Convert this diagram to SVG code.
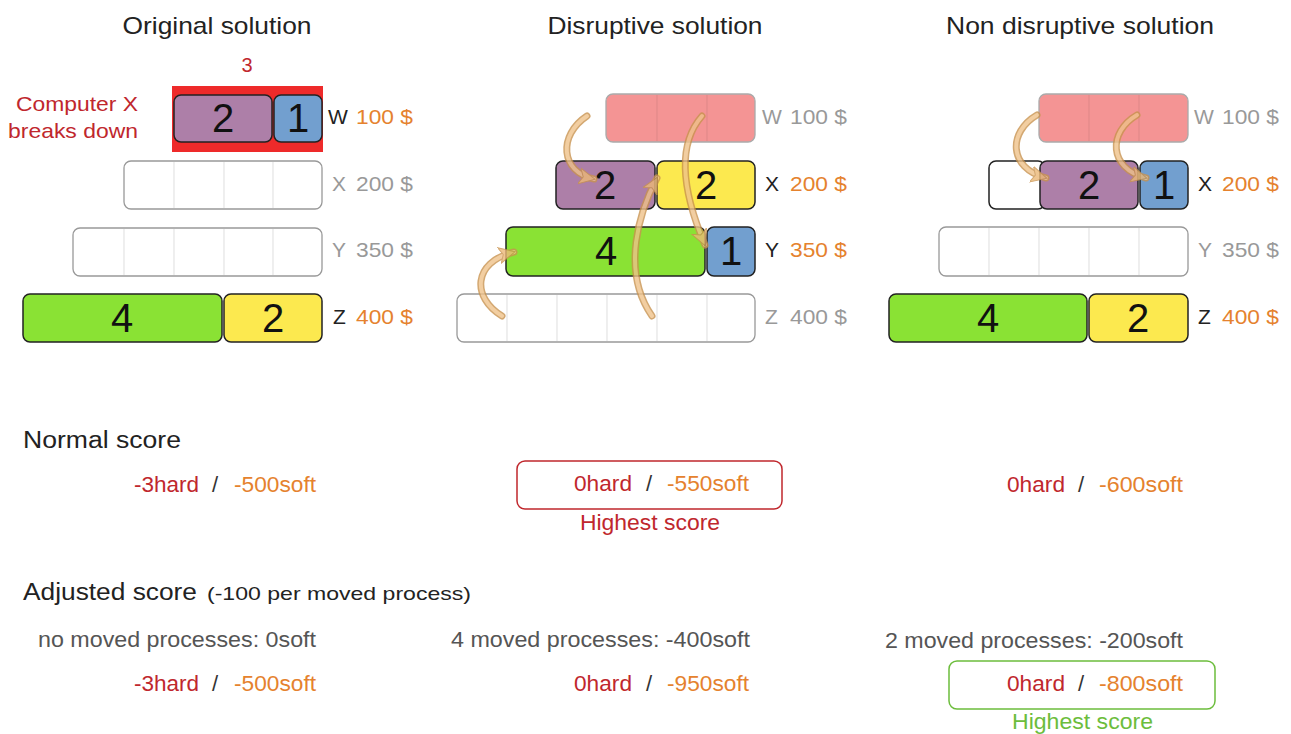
<svg xmlns="http://www.w3.org/2000/svg" width="1291" height="734" viewBox="0 0 1291 734">
<style>
text{font-family:"Liberation Sans",Arial,sans-serif}
.title{font-size:24px;fill:#222;text-anchor:middle}
.num{font-size:40px;fill:#111;text-anchor:middle}
.lbl{font-size:21px}
.blk{fill:#222}
.gry{fill:#999}
.org{fill:#e5822e}
.red{fill:#c0272d}
.grn{fill:#6cbd3c}
.dark{fill:#555}
.sl{fill:#333}
.sc{font-size:22px}
.box{stroke:#222;stroke-width:1.5}
.pur{fill:#ad7fa8}
.blu{fill:#729fcf}
.gre{fill:#8ae234}
.yel{fill:#fce94f}
.emp{fill:#fff;stroke:#999;stroke-width:1.3}
.pnk{fill:#f49494;stroke:#aaa;stroke-width:1.3}
.cell{stroke:#e6e6e6;stroke-width:1.3}
.pcell{stroke:#e48a8a;stroke-width:1.3}
.ao{fill:none;stroke:#c9934f;stroke-width:7;stroke-linecap:round}
.ai{fill:none;stroke:#efc28a;stroke-width:4;stroke-linecap:round}
</style>
<defs>
<marker id="ah" markerUnits="userSpaceOnUse" viewBox="0 0 18 18" markerWidth="18" markerHeight="18" refX="15" refY="9" orient="auto">
<path d="M0,1 L16,9 L0,17 L4,9 z" fill="#ecb977" stroke="#c9934f" stroke-width="1"/>
</marker>
</defs>
<rect width="1291" height="734" fill="#fff"/>

<g id="titles">
<text class="title" x="217" y="34" textLength="189" lengthAdjust="spacingAndGlyphs">Original solution</text>
<text class="title" x="655" y="34" textLength="215" lengthAdjust="spacingAndGlyphs">Disruptive solution</text>
<text class="title" x="1080" y="34" textLength="268" lengthAdjust="spacingAndGlyphs">Non disruptive solution</text>
</g>

<!-- Original solution -->
<g id="orig-note">
<text class="red" x="247" y="72" font-size="20" text-anchor="middle">3</text>
<text class="red" x="16" y="111" font-size="21" textLength="122" lengthAdjust="spacingAndGlyphs">Computer X</text>
<text class="red" x="8" y="138" font-size="21" textLength="130" lengthAdjust="spacingAndGlyphs">breaks down</text>
</g>
<g id="orig-W">
<rect x="172" y="86" width="151" height="66" fill="#ee2a2a"/>
<rect class="box pur" x="174" y="95" width="98" height="47" rx="7"/>
<rect class="box blu" x="274" y="95" width="48" height="47" rx="7"/>
<text class="num" x="223" y="132">2</text>
<text class="num" x="298" y="132">1</text>
<text class="lbl blk" x="328" y="124">W</text>
<text class="lbl org" x="413" y="124" text-anchor="end" textLength="57" lengthAdjust="spacingAndGlyphs">100 $</text>
</g>
<g id="orig-X">
<rect class="emp" x="124" y="161" width="198" height="48" rx="7"/>
<path class="cell" d="M174,162V208M224,162V208M273,162V208"/>
<text class="lbl gry" x="332" y="191">X</text>
<text class="lbl gry" x="413" y="191" text-anchor="end" textLength="57" lengthAdjust="spacingAndGlyphs">200 $</text>
</g>
<g id="orig-Y">
<rect class="emp" x="73" y="228" width="249" height="48" rx="7"/>
<path class="cell" d="M124,229V275M174,229V275M224,229V275M273,229V275"/>
<text class="lbl gry" x="332" y="257">Y</text>
<text class="lbl gry" x="413" y="257" text-anchor="end" textLength="57" lengthAdjust="spacingAndGlyphs">350 $</text>
</g>
<g id="orig-Z">
<rect class="box gre" x="23" y="294" width="199" height="48" rx="7"/>
<rect class="box yel" x="224" y="294" width="98" height="48" rx="7"/>
<text class="num" x="122" y="332">4</text>
<text class="num" x="273" y="332">2</text>
<text class="lbl blk" x="333" y="324">Z</text>
<text class="lbl org" x="413" y="324" text-anchor="end" textLength="57" lengthAdjust="spacingAndGlyphs">400 $</text>
</g>

<!-- Disruptive solution -->
<g id="dis-W">
<rect class="pnk" x="606" y="94" width="149" height="48" rx="7"/>
<path class="pcell" d="M657,95V141M707,95V141"/>
<text class="lbl gry" x="762" y="124">W</text>
<text class="lbl gry" x="847" y="124" text-anchor="end" textLength="57" lengthAdjust="spacingAndGlyphs">100 $</text>
</g>
<g id="dis-X">
<rect class="box pur" x="556" y="161" width="99" height="48" rx="7"/>
<rect class="box yel" x="657" y="161" width="98" height="48" rx="7"/>
<text class="num" x="605" y="199">2</text>
<text class="num" x="706" y="199">2</text>
<text class="lbl blk" x="765" y="191">X</text>
<text class="lbl org" x="847" y="191" text-anchor="end" textLength="57" lengthAdjust="spacingAndGlyphs">200 $</text>
</g>
<g id="dis-Y">
<rect class="box gre" x="506" y="227" width="199" height="49" rx="7"/>
<rect class="box blu" x="707" y="227" width="48" height="49" rx="7"/>
<text class="num" x="606" y="265">4</text>
<text class="num" x="731" y="265">1</text>
<text class="lbl blk" x="765" y="257">Y</text>
<text class="lbl org" x="847" y="257" text-anchor="end" textLength="57" lengthAdjust="spacingAndGlyphs">350 $</text>
</g>
<g id="dis-Z">
<rect class="emp" x="457" y="294" width="298" height="48" rx="7"/>
<path class="cell" d="M507,295V341M557,295V341M607,295V341M657,295V341M707,295V341"/>
<text class="lbl gry" x="765" y="324">Z</text>
<text class="lbl gry" x="847" y="324" text-anchor="end" textLength="57" lengthAdjust="spacingAndGlyphs">400 $</text>
</g>

<!-- Non disruptive solution -->
<g id="non-W">
<rect class="pnk" x="1039" y="94" width="149" height="48" rx="7"/>
<path class="pcell" d="M1089,95V141M1139,95V141"/>
<text class="lbl gry" x="1194" y="124">W</text>
<text class="lbl gry" x="1279" y="124" text-anchor="end" textLength="57" lengthAdjust="spacingAndGlyphs">100 $</text>
</g>
<g id="non-X">
<rect class="box" fill="#fff" x="989" y="161" width="56" height="48" rx="7"/>
<rect class="box pur" x="1040" y="161" width="98" height="48" rx="7"/>
<rect class="box blu" x="1140" y="161" width="48" height="48" rx="7"/>
<text class="num" x="1089" y="199">2</text>
<text class="num" x="1164" y="199">1</text>
<text class="lbl blk" x="1198" y="191">X</text>
<text class="lbl org" x="1279" y="191" text-anchor="end" textLength="57" lengthAdjust="spacingAndGlyphs">200 $</text>
</g>
<g id="non-Y">
<rect class="emp" x="939" y="227" width="249" height="49" rx="7"/>
<path class="cell" d="M989,228V275M1039,228V275M1089,228V275M1139,228V275"/>
<text class="lbl gry" x="1198" y="257">Y</text>
<text class="lbl gry" x="1279" y="257" text-anchor="end" textLength="57" lengthAdjust="spacingAndGlyphs">350 $</text>
</g>
<g id="non-Z">
<rect class="box gre" x="889" y="294" width="198" height="48" rx="7"/>
<rect class="box yel" x="1089" y="294" width="99" height="48" rx="7"/>
<text class="num" x="988" y="332">4</text>
<text class="num" x="1138" y="332">2</text>
<text class="lbl blk" x="1198" y="324">Z</text>
<text class="lbl org" x="1279" y="324" text-anchor="end" textLength="57" lengthAdjust="spacingAndGlyphs">400 $</text>
</g>

<!-- move arrows -->
<g id="connectors" opacity="0.8">
<path class="ao" d="M587,116 C558,135 560,172 594,179"/>
<path class="ai" d="M587,116 C558,135 560,172 594,179" marker-end="url(#ah)"/>
<path class="ao" d="M702,116 C672,150 688,205 705,245"/>
<path class="ai" d="M702,116 C672,150 688,205 705,245" marker-end="url(#ah)"/>
<path class="ao" d="M652,316 C620,270 640,210 657,178"/>
<path class="ai" d="M652,316 C620,270 640,210 657,178" marker-end="url(#ah)"/>
<path class="ao" d="M502,316 C472,298 472,262 514,252"/>
<path class="ai" d="M502,316 C472,298 472,262 514,252" marker-end="url(#ah)"/>
<path class="ao" d="M1037,115 C1008,132 1008,168 1046,178"/>
<path class="ai" d="M1037,115 C1008,132 1008,168 1046,178" marker-end="url(#ah)"/>
<path class="ao" d="M1137,115 C1108,132 1108,168 1146,178"/>
<path class="ai" d="M1137,115 C1108,132 1108,168 1146,178" marker-end="url(#ah)"/>
</g>

<!-- Normal score -->
<g id="normal-score">
<text class="blk" x="23" y="448" font-size="23" textLength="158" lengthAdjust="spacingAndGlyphs">Normal score</text>
<text class="sc red" x="134" y="492" textLength="65" lengthAdjust="spacingAndGlyphs">-3hard</text>
<text class="sc sl" x="212" y="492">/</text>
<text class="sc org" x="234" y="492" textLength="82" lengthAdjust="spacingAndGlyphs">-500soft</text>
</g>
<g id="normal-dis">
<rect x="517" y="461" width="265" height="48" rx="8" fill="none" stroke="#c0272d" stroke-width="1.5"/>
<text class="sc red" x="574" y="491" textLength="58" lengthAdjust="spacingAndGlyphs">0hard</text>
<text class="sc sl" x="646" y="491">/</text>
<text class="sc org" x="667" y="491" textLength="82" lengthAdjust="spacingAndGlyphs">-550soft</text>
<text class="red" x="580" y="530" font-size="22" textLength="140" lengthAdjust="spacingAndGlyphs">Highest score</text>
</g>
<g id="normal-non">
<text class="sc red" x="1007" y="492" textLength="58" lengthAdjust="spacingAndGlyphs">0hard</text>
<text class="sc sl" x="1078" y="492">/</text>
<text class="sc org" x="1099" y="492" textLength="84" lengthAdjust="spacingAndGlyphs">-600soft</text>
</g>

<!-- Adjusted score -->
<g id="adjusted-score">
<text class="blk" x="23" y="600" font-size="23" textLength="174" lengthAdjust="spacingAndGlyphs">Adjusted score</text>
<text class="blk" x="207" y="600" font-size="19" textLength="264" lengthAdjust="spacingAndGlyphs">(-100 per moved process)</text>
<text class="sc dark" x="38" y="647" textLength="278" lengthAdjust="spacingAndGlyphs">no moved processes: 0soft</text>
<text class="sc red" x="134" y="691" textLength="65" lengthAdjust="spacingAndGlyphs">-3hard</text>
<text class="sc sl" x="212" y="691">/</text>
<text class="sc org" x="234" y="691" textLength="82" lengthAdjust="spacingAndGlyphs">-500soft</text>
</g>
<g id="adjusted-dis">
<text class="sc dark" x="451" y="647" textLength="299" lengthAdjust="spacingAndGlyphs">4 moved processes: -400soft</text>
<text class="sc red" x="574" y="691" textLength="58" lengthAdjust="spacingAndGlyphs">0hard</text>
<text class="sc sl" x="646" y="691">/</text>
<text class="sc org" x="667" y="691" textLength="82" lengthAdjust="spacingAndGlyphs">-950soft</text>
</g>
<g id="adjusted-non">
<text class="sc dark" x="885" y="648" textLength="298" lengthAdjust="spacingAndGlyphs">2 moved processes: -200soft</text>
<rect x="949" y="661" width="266" height="48" rx="8" fill="none" stroke="#6cbd3c" stroke-width="1.5"/>
<text class="sc red" x="1007" y="691" textLength="58" lengthAdjust="spacingAndGlyphs">0hard</text>
<text class="sc sl" x="1078" y="691">/</text>
<text class="sc org" x="1099" y="691" textLength="84" lengthAdjust="spacingAndGlyphs">-800soft</text>
<text class="grn" x="1012" y="729" font-size="22" textLength="141" lengthAdjust="spacingAndGlyphs">Highest score</text>
</g>
</svg>
